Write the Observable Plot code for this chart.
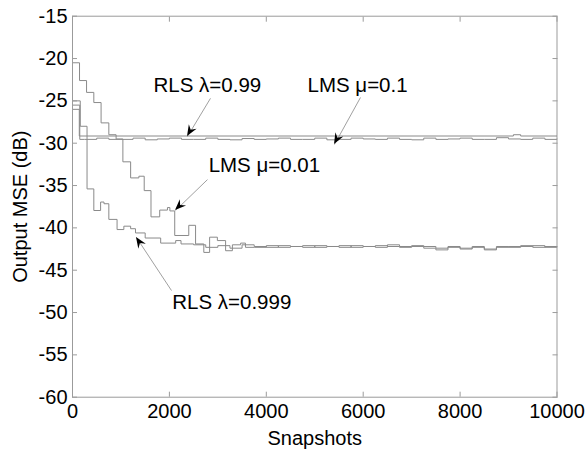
<!DOCTYPE html>
<html><head><meta charset="utf-8">
<script src="https://cdn.jsdelivr.net/npm/d3@7"></script>
<script src="https://cdn.jsdelivr.net/npm/@observablehq/plot@0.6"></script>
<style>body{margin:0;background:#fff}</style>
</head><body><div id="chart"></div>
<script>
const xTicks = [0, 2000, 4000, 6000, 8000, 10000];
const yTicks = [-60, -55, -50, -45, -40, -35, -30, -25, -20, -15];

const tailX = [3750,4000,4250,4500,4750,5000,5250,5500,5750,6000,6250,6500,6750,7000,7250,7500,7750,8000,8250,8500,8750,9000,9250,9500,9750,10000];

// LMS mu=0.01
const lms001X = [0,145,290,440,590,750,900,1040,1200,1370,1480,1620,1800,1960,2010,2110,2400,2540,2710,2830,2990,3160,3300,3470,3570, ...tailX];
const lms001Y = [-20.5,-22.6,-24.0,-25.2,-27.6,-29.0,-29.5,-32.2,-34.1,-33.9,-35.6,-38.7,-37.9,-37.6,-38.0,-40.9,-39.7,-41.9,-42.9,-41.1,-41.5,-42.7,-42.0,-41.8,-42.3,
  -42.3,-42.1,-42.3,-42.2,-42.1,-42.3,-42.2,-42.3,-42.1,-42.2,-42.3,-42.0,-42.2,-42.1,-42.4,-42.6,-42.2,-42.5,-42.3,-42.5,-42.2,-42.3,-42.1,-42.3,-42.2,-42.2];

// RLS lambda=0.999
const rls0999X = [0,160,300,440,580,650,750,920,1060,1200,1300,1500,1820,2130,2240,2500,2750,3000,3250,3500, ...tailX];
const rls0999Y = [-25.0,-28.0,-35.4,-37.95,-36.95,-37.15,-39.0,-40.2,-39.8,-40.1,-40.6,-41.2,-41.8,-41.5,-41.9,-42.0,-42.3,-42.1,-42.4,-42.0,
  -42.2,-42.3,-42.1,-42.2,-42.3,-42.1,-42.2,-42.1,-42.3,-42.2,-42.1,-42.2,-42.3,-42.2,-42.2,-42.4,-42.3,-42.4,-42.2,-42.6,-42.3,-42.2,-42.2,-42.1,-42.3,-42.2];

// RLS lambda=0.99
const rls099X = [0,150,250,500,750,1000,1250,1500,1750,2000,2250,2500,2750,3000,3250,3500,3750,4000,4250,4500,4750,5000,5250,5500,5750,6000,6250,6500,6750,7000,7250,7500,7750,8000,8250,8500,8750,9000,9250,9500,9750,10000];
const rls099Y = [-25.5,-29.55,-29.55,-29.4,-29.55,-29.55,-29.4,-29.6,-29.5,-29.4,-29.55,-29.55,-29.4,-29.55,-29.6,-29.45,-29.55,-29.5,-29.4,-29.55,-29.55,-29.4,-29.6,-29.55,-29.4,-29.5,-29.55,-29.4,-29.55,-29.6,-29.4,-29.55,-29.5,-29.4,-29.55,-29.55,-29.35,-29.5,-29.55,-29.4,-29.55,-29.5];

// LMS mu=0.1
const lms01X = [0,140,9100,9250,10000];
const lms01Y = [-26.0,-29.15,-29.0,-29.15,-29.15];

// annotations
const labelText = ["RLS \u03bb=0.99", "LMS \u03bc=0.1", "LMS \u03bc=0.01", "RLS \u03bb=0.999"];
const labelX = [1672, 4850, 2810, 2058];
const labelY = [-23.2, -23.2, -32.6, -48.8];
const arrowX1 = [2848, 5944, 2786, 2043];
const arrowY1 = [-24.7, -24.6, -34.3, -47.4];
const arrowX2 = [2374, 5408, 2126, 1321];
const arrowY2 = [-29.2, -30.15, -37.95, -41.15];

const series = [
  {name: "LMS 0.01", xs: lms001X, ys: lms001Y},
  {name: "RLS 0.999", xs: rls0999X, ys: rls0999Y},
  {name: "RLS 0.99", xs: rls099X, ys: rls099Y},
  {name: "LMS 0.1", xs: lms01X, ys: lms01Y}
];
const rows = series.flatMap(s => s.xs.map((x, i) => ({series: s.name, x, y: s.ys[i]})));
const labels = labelText.map((t, i) => ({t, x: labelX[i], y: labelY[i]}));
const arrows = labelText.map((t, i) => ({x1: arrowX1[i], y1: arrowY1[i], x2: arrowX2[i], y2: arrowY2[i]}));

const fmt = d => String(d);
const gray = "#9b9b9b";

const heads = (index, scales) => {
  const g = d3.create("svg:g").attr("fill", "#000");
  for (const a of arrows) {
    const sx = scales.x(a.x1), sy = scales.y(a.y1), tx = scales.x(a.x2), ty = scales.y(a.y2);
    const dx = tx - sx, dy = ty - sy, len = Math.hypot(dx, dy);
    const ux = dx / len, uy = dy / len, nx = -uy, ny = ux;
    const L = 11, W = 4.5;
    const p = [
      [tx, ty],
      [tx - L * ux + W * nx, ty - L * uy + W * ny],
      [tx - 0.65 * L * ux, ty - 0.65 * L * uy],
      [tx - L * ux - W * nx, ty - L * uy - W * ny]
    ];
    g.append("path").attr("d", "M" + p.map(q => q.join(",")).join("L") + "Z");
  }
  return g.node();
};

const plot = Plot.plot({
  width: 587,
  height: 451,
  marginLeft: 72,
  marginRight: 30.5,
  marginTop: 15.7,
  marginBottom: 54.3,
  style: {fontFamily: "'Liberation Sans', Arial, sans-serif", fontSize: "20px", background: "#fff", color: "#000"},
  x: {domain: [0, 10000]},
  y: {domain: [-60, -15]},
  marks: [
    Plot.line(rows, {x: "x", y: "y", z: "series", curve: "step-after", stroke: "#8a8a8a", strokeWidth: 1}),
    Plot.frame({stroke: gray}),
    Plot.axisX(xTicks, {anchor: "bottom", tickSize: -5, tickPadding: 12, tickFormat: fmt, stroke: gray, label: "Snapshots", labelAnchor: "center", labelOffset: 48, labelArrow: "none", fontSize: 20}),
    Plot.axisX(xTicks, {anchor: "top", tickSize: -5, tickFormat: () => "", stroke: gray, label: null}),
    Plot.axisY(yTicks, {anchor: "left", tickSize: -5, tickPadding: 10, tickFormat: fmt, stroke: gray, label: "Output MSE (dB)", labelAnchor: "center", labelOffset: 60, labelArrow: "none", fontSize: 20}),
    Plot.axisY(yTicks, {anchor: "right", tickSize: -5, tickFormat: () => "", stroke: gray, label: null}),
    Plot.link(arrows, {x1: "x1", y1: "y1", x2: "x2", y2: "y2", stroke: "#888", strokeWidth: 0.8}),
    heads,
    Plot.text(labels, {x: "x", y: "y", text: "t", textAnchor: "start", lineAnchor: "middle", fontSize: 20.5, fill: "#000"})
  ]
});
document.getElementById("chart").appendChild(plot);
</script>
</body></html>
